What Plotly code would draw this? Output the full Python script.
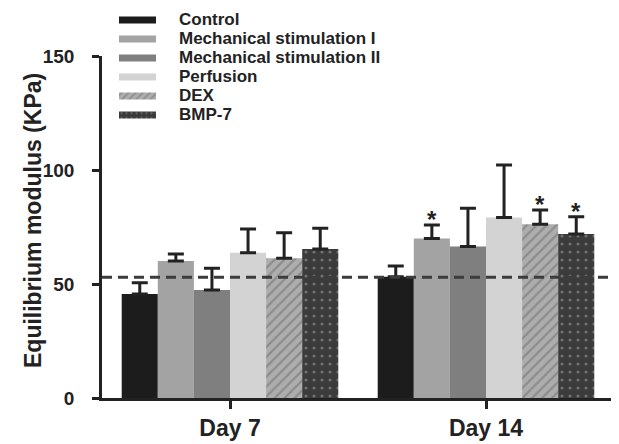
import numpy as np
import plotly.graph_objects as go

# ---------------- data ----------------
days = ["Day 7", "Day 14"]
series = ["Control", "Mechanical stimulation I", "Mechanical stimulation II",
          "Perfusion", "DEX", "BMP-7"]
mean_control = [45.6, 53.2]
mean_mech1 = [60.1, 70.0]
mean_mech2 = [47.4, 66.4]
mean_perf = [63.7, 79.2]
mean_dex = [61.3, 76.2]
mean_bmp7 = [65.4, 71.9]
sd_control = [5.0, 4.7]
sd_mech1 = [3.1, 5.9]
sd_mech2 = [9.5, 16.8]
sd_perf = [10.4, 23.0]
sd_dex = [11.2, 6.3]
sd_bmp7 = [9.0, 7.6]
sig_mech1 = ["", "*"]
sig_dex = ["", "*"]
sig_bmp7 = ["", "*"]
reference_line = 53.0
y_ticks = [0, 50, 100, 150]

means = [mean_control, mean_mech1, mean_mech2, mean_perf, mean_dex, mean_bmp7]
sds = [sd_control, sd_mech1, sd_mech2, sd_perf, sd_dex, sd_bmp7]
sigs = [["", ""], sig_mech1, ["", ""], ["", ""], sig_dex, sig_bmp7]

# ---------------- styles ----------------
FONT = "Liberation Sans, Arial, Helvetica, sans-serif"
INK = "#222222"
colors = ["#1c1c1c", "#a3a3a3", "#7f7f7f", "#d3d3d3", "#a9a9a9", "#3b3b3b"]
patterns = [None, None, None, None,
            dict(shape="/", bgcolor="#adadad", fgcolor="#686868", size=7, solidity=0.3),
            dict(shape=".", bgcolor="#3b3b3b", fgcolor="#a5a5a5", size=8, solidity=0.12)]

# page is rendered with an 8px body margin; work in figure coordinates
OFF = 8
W, H = 619 - OFF, 444 - OFF
ML, MR, MT, MB = 102 - OFF, 5, 0, 444 - 398
PW, PH = W - ML - MR, H - MT - MB


def px(xp):  # page x -> paper x
    return (xp - OFF - ML) / PW


def py(yp):  # page y -> paper y
    return (H - MB - (yp - OFF)) / PH


bw = 0.141
xc = np.arange(len(days))

fig = go.Figure()
annotations = []
for i, name in enumerate(series):
    xs = xc + (i - (len(series) - 1) / 2) * bw
    marker = dict(color=colors[i], line=dict(width=0))
    if patterns[i]:
        marker["pattern"] = patterns[i]
    fig.add_trace(go.Bar(
        x=xs, y=means[i], width=bw, name=name, marker=marker,
        error_y=dict(type="data", array=sds[i], arrayminus=[0] * len(days),
                     symmetric=False, color=INK, thickness=3, width=8),
        showlegend=False, xaxis="x", yaxis="y"))
    for j in range(len(days)):
        if sigs[i][j]:
            annotations.append(dict(
                x=xs[j], y=means[i][j] + sds[i][j], xref="x", yref="y",
                text=sigs[i][j], showarrow=False, xanchor="center",
                yanchor="middle", yshift=5,
                font=dict(family=FONT, size=24, color=INK, weight="bold")))

# custom legend swatches (wide flat rectangles like the original)
for i, name in enumerate(series):
    marker = dict(color=colors[i], line=dict(width=0))
    if patterns[i]:
        p = dict(patterns[i])
        p["size"] = 5
        marker["pattern"] = p
    fig.add_trace(go.Bar(
        x=[1], y=[name], orientation="h", width=0.37, marker=marker,
        showlegend=False, hoverinfo="skip", xaxis="x2", yaxis="y2"))

for name in series:
    annotations.append(dict(
        x=px(177), xref="paper", y=name, yref="y2",
        text=name, showarrow=False, xanchor="left", yanchor="middle",
        font=dict(family=FONT, size=17, color=INK, weight="bold")))

annotations.append(dict(
    x=px(33), y=py(221), xref="paper", yref="paper",
    text="Equilibrium modulus (KPa)", textangle=-90, showarrow=False,
    xanchor="center", yanchor="middle",
    font=dict(family=FONT, size=23, color=INK, weight="bold")))

fig.add_shape(type="line", xref="x domain", x0=0, x1=1, yref="y",
              y0=reference_line, y1=reference_line,
              line=dict(color="#3c3c3c", width=3, dash="10px,6px"), layer="above")

fig.update_layout(
    width=W, height=H,
    margin=dict(l=ML, r=MR, t=MT, b=MB, autoexpand=False),
    paper_bgcolor="white", plot_bgcolor="white",
    barmode="overlay",
    font=dict(family=FONT, color=INK),
    annotations=annotations,
    xaxis=dict(range=[-0.5, 1.5], tickvals=list(xc), ticktext=days,
               showline=True, linecolor=INK, linewidth=2.5,
               ticks="outside", ticklen=8, tickwidth=2.5, tickcolor=INK,
               tickfont=dict(family=FONT, size=23, color=INK, weight="bold"),
               ticklabelstandoff=0, automargin=False,
               showgrid=False, zeroline=False, fixedrange=True),
    yaxis=dict(range=[0, 150], domain=[0, py(56)], tickvals=y_ticks,
               showline=True, linecolor=INK, linewidth=2.5,
               ticks="outside", ticklen=7, tickwidth=2.5, tickcolor=INK,
               tickfont=dict(family=FONT, size=19, color=INK, weight="bold"),
               ticklabelstandoff=14, automargin=False,
               showgrid=False, zeroline=False, fixedrange=True),
    xaxis2=dict(domain=[px(119), px(156)], range=[0, 1],
                visible=False, anchor="y2", fixedrange=True, automargin=False),
    yaxis2=dict(domain=[py(124.5), py(10.5)],
                categoryorder="array", categoryarray=series[::-1],
                range=[-0.5, 5.5],
                visible=False, anchor="x2", fixedrange=True, automargin=False),
)

fig.write_html("out.html")
